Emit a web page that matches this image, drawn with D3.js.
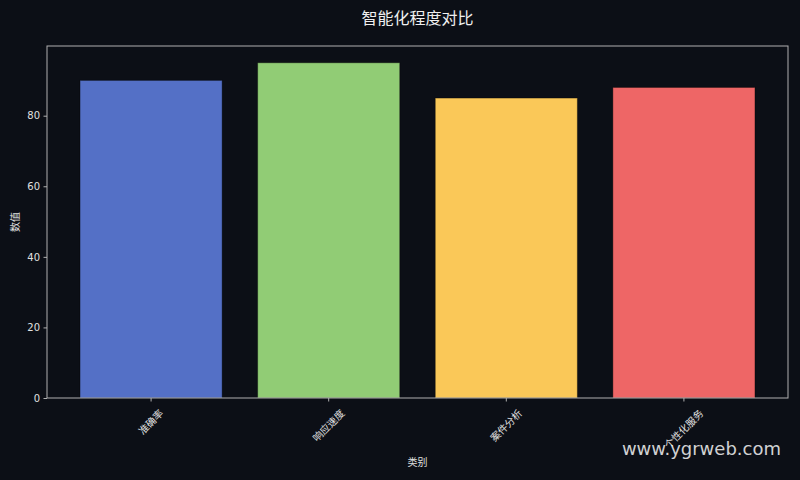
<!DOCTYPE html>
<html>
<head>
<meta charset="utf-8">
<script src="https://cdn.jsdelivr.net/npm/d3@7"></script>
<style>
  html,body{margin:0;padding:0;background:#0c0f16;}
  svg text{font-family:"DejaVu Sans","Noto Sans CJK SC",sans-serif;}
</style>
</head>
<body>
<div id="chart"></div>
<script>
const categories = ["准确率","响应速度","案件分析","个性化服务"];
const values = [90,95,85,88];
const colors = ["#5470c6","#91cc75","#fac858","#ee6666"];
const yTicks = [0,20,40,60,80];
const titleText = "智能化程度对比";
const xTitle = "类别";
const yTitle = "数值";
const watermark = "www.ygrweb.com";

const W = 800, H = 480;
const m = {left:47, right:12, top:46, bottom:82};

const svg = d3.select("#chart").append("svg")
  .attr("width",W).attr("height",H);

svg.append("rect").attr("width",W).attr("height",H).attr("fill","#0c0f16");

const x = d3.scaleBand()
  .domain(categories)
  .range([m.left, W-m.right])
  .paddingInner(0.2)
  .paddingOuter(0.186);

const y = d3.scaleLinear()
  .domain([0, d3.max(values)*1.05])
  .range([H-m.bottom, m.top]);

// bars
svg.selectAll(".bar")
  .data(categories)
  .enter().append("rect")
  .attr("class","bar")
  .attr("x",d=>x(d))
  .attr("width",x.bandwidth())
  .attr("y",(d,i)=>y(values[i]))
  .attr("height",(d,i)=>y(0)-y(values[i]))
  .attr("fill",(d,i)=>colors[i])
  .attr("stroke","rgba(0,0,0,0.35)")
  .attr("stroke-width",1);

// frame
svg.append("rect")
  .attr("x",m.left).attr("y",m.top)
  .attr("width",W-m.right-m.left).attr("height",H-m.bottom-m.top)
  .attr("fill","none").attr("stroke","#b0b0b0").attr("stroke-width",1);

// y axis
const yAxis = svg.append("g")
  .attr("transform","translate("+m.left+",0)")
  .call(d3.axisLeft(y).tickValues(yTicks).tickSize(3.5).tickPadding(3.5));
yAxis.select(".domain").remove();
yAxis.selectAll("line").attr("stroke","#b0b0b0");
yAxis.selectAll("text").attr("fill","#e0e0e0").style("font-size","10px");

// x axis
const xAxis = svg.append("g")
  .attr("transform","translate(0,"+(H-m.bottom)+")")
  .call(d3.axisBottom(x).tickSize(3.5).tickFormat(""));
xAxis.select(".domain").remove();
xAxis.selectAll("line").attr("stroke","#b0b0b0");

svg.selectAll(".xlab")
  .data(categories)
  .enter().append("text")
  .attr("class","xlab")
  .attr("text-anchor","middle")
  .attr("dominant-baseline","central")
  .attr("fill","#e0e0e0")
  .style("font-size","10px")
  .attr("transform",d=>{
    const cx = x(d)+x.bandwidth()/2;
    const half = (d.length*10+10)*0.7071/2;
    const cy = H-m.bottom+10+half;
    return "translate("+cx+","+cy+") rotate(-45)";
  })
  .text(d=>d);

// titles
svg.append("text")
  .attr("x",(m.left+W-m.right)/2).attr("y",24)
  .attr("text-anchor","middle").attr("fill","#f0f0f0")
  .style("font-size","16px")
  .text(titleText);

svg.append("text")
  .attr("x",(m.left+W-m.right)/2).attr("y",466)
  .attr("text-anchor","middle").attr("fill","#e0e0e0")
  .style("font-size","10px")
  .text(xTitle);

svg.append("text")
  .attr("transform","translate(19,"+((m.top+H-m.bottom)/2)+") rotate(-90)")
  .attr("text-anchor","middle").attr("fill","#e0e0e0")
  .style("font-size","10px")
  .text(yTitle);

// watermark
svg.append("text")
  .attr("x",781).attr("y",455)
  .attr("text-anchor","end")
  .attr("fill","rgba(255,255,255,0.82)")
  .style("font-size","18px")
  .text(watermark);
</script>
</body>
</html>
